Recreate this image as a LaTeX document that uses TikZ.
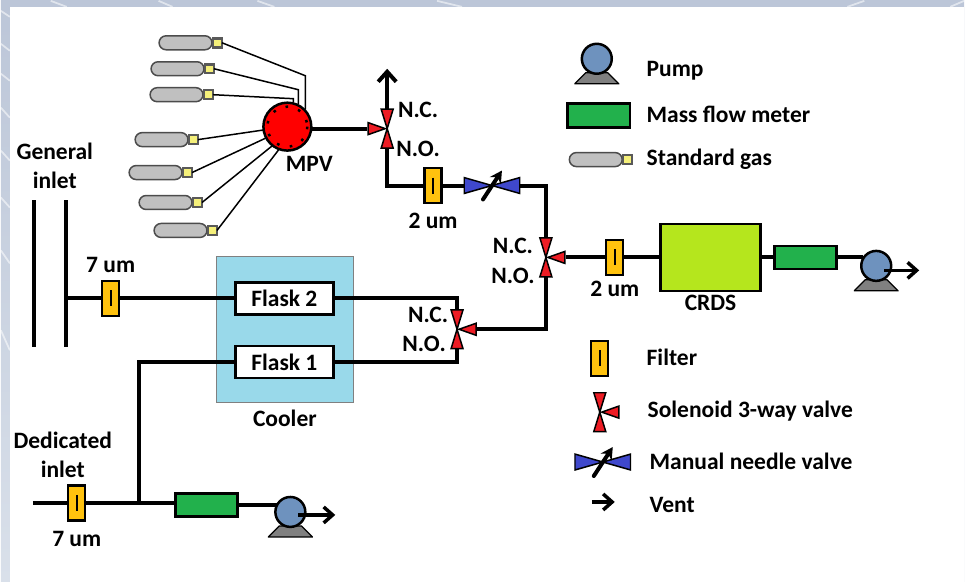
\documentclass[tikz,border=0pt]{standalone}
\usepackage{fontspec}
\setmainfont{Carlito}
\usetikzlibrary{positioning, arrows.meta, shapes.misc}
\definecolor{bgblue}{HTML}{BCC6D8}
\definecolor{bgpale}{HTML}{D9E0EA}
\definecolor{coolerblue}{HTML}{99D9EA}
\definecolor{crdsgreen}{HTML}{B5E61D}
\definecolor{mfmgreen}{HTML}{22B14C}
\definecolor{filteryellow}{HTML}{FFC20E}
\definecolor{capyellow}{HTML}{F5F07A}
\definecolor{valvered}{HTML}{ED1C24}
\definecolor{needleblue}{HTML}{3F48CC}
\definecolor{pumpblue}{HTML}{6E92BE}
\definecolor{cylgray}{HTML}{C0C0C0}

\begin{document}
\begin{tikzpicture}[
    x=0.02cm, y=-0.02cm, on grid,
    every node/.style={font=\fontsize{13.4}{15}\selectfont\bfseries, inner sep=0pt, outer sep=0pt},
    pipe/.style={line width=0.08cm},
    lead/.style={line width=0.03cm},
    streak/.style={white, opacity=0.55, line width=0.035cm},
    ventline/.style={line width=0.07cm, -{Straight Barb[length=0.18cm, width=0.32cm, line width=0.07cm]}},
    filterbox/.style={draw, line width=0.045cm, fill=filteryellow, minimum width=0.34cm, minimum height=0.7cm,
        path picture={\draw[line width=0.04cm] (0,-8) -- (0,8);}},
    mfmbox/.style={draw, line width=0.05cm, fill=mfmgreen, minimum width=1.24cm, minimum height=0.46cm},
    flaskbox/.style={draw, line width=0.05cm, fill=white, minimum width=1.96cm, minimum height=0.64cm},
    valve3way/.style={minimum size=0.8cm,
        path picture={\draw[line width=0.03cm, fill=valvered] (0,0) -- (-6,-19.5) -- (6,-19.5) -- cycle;
            \draw[line width=0.03cm, fill=valvered] (0,0) -- (-6,19.5) -- (6,19.5) -- cycle;
            \draw[line width=0.03cm, fill=valvered] (#1*2,0) -- (#1*19,-6) -- (#1*19,6) -- cycle;}},
    needlevalve/.style={minimum width=1.14cm, minimum height=0.66cm,
        path picture={\draw[line width=0.03cm, fill=needleblue] (0,0) -- (-28,-8) -- (-28,8) -- cycle;
            \draw[line width=0.03cm, fill=needleblue] (0,0) -- (28,-8) -- (28,8) -- cycle;
            \draw[line width=0.08cm, line cap=round, -{Stealth[length=0.24cm, width=0.26cm]}] (-9,14) -- (10,-15);}},
    pumpcircle/.style={circle, draw, line width=0.05cm, fill=pumpblue, minimum size=0.6cm},
    pumpbase/.style={minimum width=0.9cm, minimum height=0.24cm,
        path picture={\draw[line width=0.025cm, fill=gray] (-22,5.5) -- (22,5.5) -- (11,-5.5) -- (-11,-5.5) -- cycle;}},
    cylbody/.style={rounded rectangle, draw=black!70, line width=0.03cm, fill=cylgray, minimum width=1.06cm, minimum height=0.28cm},
    cylcap/.style={draw=black!65, line width=0.05cm, fill=capyellow, minimum width=0.18cm, minimum height=0.18cm},
    legendtxt/.style={anchor=west},
    ]

   % Page behind the drawing.
   \fill[top color=bgblue, bottom color=bgpale] (0,0) rectangle (965,582);
   \draw[streak] (50,0) -- (66,6) (158,0) -- (172,6) (257,0) -- (274,6) (437,0) -- (462,6) (865,0) -- (848,6) (965,0) -- (951,6);
   \draw[streak] (0,10) -- (9,16) (0,43) -- (9,50) (0,73) -- (9,80) (0,107) -- (9,117) (0,150) -- (9,160) (0,197) -- (9,207) (0,250) -- (9,263) (0,330) -- (9,350);
   \fill[white] (9,6) rectangle (965,582);
   \useasboundingbox (0,0) rectangle (965,582);

   % Standard gases and MPV.
   \node[circle, draw, line width=0.05cm, fill=red, minimum size=0.96cm,
       path picture={\draw[line width=0.05cm, dash pattern=on 1.5pt off 6pt] (0,0) circle (20);}] (mpv) at (287,126) {};
   \node[below right=0.74cm and 0.44cm of mpv] (mpv_txt) {MPV};

   \node[cylbody] (cyl1) at (185,42) {};
   \node[cylcap, right=0.64cm of cyl1] (cap1) {};
   \node[cylbody] (cyl2) at (177,68) {};
   \node[cylcap, right=0.64cm of cyl2] (cap2) {};
   \node[cylbody] (cyl3) at (176,94) {};
   \node[cylcap, right=0.64cm of cyl3] (cap3) {};
   \node[cylbody] (cyl4) at (161,139) {};
   \node[cylcap, right=0.64cm of cyl4] (cap4) {};
   \node[cylbody] (cyl5) at (155,172) {};
   \node[cylcap, right=0.64cm of cyl5] (cap5) {};
   \node[cylbody] (cyl6) at (165,202) {};
   \node[cylcap, right=0.64cm of cyl6] (cap6) {};
   \node[cylbody] (cyl7) at (180,230) {};
   \node[cylcap, right=0.64cm of cyl7] (cap7) {};

   \coordinate (bend1) at (305,75);
   \coordinate (bend2) at (298,89);
   \coordinate (bend3) at (293,98);
   \draw[lead] (cap1.east) -- (bend1) -- (bend1 |- mpv.45);
   \draw[lead] (cap2.east) -- (bend2) -- (bend2 |- mpv.70);
   \draw[lead] (cap3.east) -- (bend3) -- (bend3 |- mpv.north);
   \draw[lead] (cap4.east) -- (mpv.188);
   \draw[lead] (cap5.east) -- (mpv.208);
   \draw[lead] (cap6.east) -- (mpv.232);
   \draw[lead] (cap7.east) -- (mpv.250);

   % Sampling line.
   \node[valve3way=-1] (valve1) at (387,128) {};
   \node[above right=0.38cm and 0.62cm of valve1] (nc1) {N.C.};
   \node[below right=0.4cm and 0.62cm of valve1] (no1) {N.O.};
   \coordinate[above=1.2cm of valve1] (vent1);
   \node[filterbox, below right=1.14cm and 0.92cm of valve1] (filter1) {};
   \node[below=0.7cm of filter1] (filter1_txt) {2 um};
   \node[needlevalve, right=1.18cm of filter1] (needle) {};
   \node[valve3way=1] (valve2) at (546,257) {};
   \node[above left=0.24cm and 0.66cm of valve2] (nc2) {N.C.};
   \node[below left=0.38cm and 0.66cm of valve2] (no2) {N.O.};
   \node[filterbox, right=1.38cm of valve2] (filter2) {};
   \node[below=0.64cm of filter2] (filter2_txt) {2 um};
   \node[draw, line width=0.05cm, fill=crdsgreen, minimum width=2cm, minimum height=1.34cm, right=1.92cm of filter2] (crds) {};
   \node[below=0.92cm of crds] (crds_txt) {CRDS};
   \node[mfmbox, right=1.9cm of crds] (mfm1) {};
   \node[pumpbase, below right=0.56cm and 1.42cm of mfm1] (base1) {};
   \node[pumpcircle, above=0.39cm of base1] (pump1) {};
   \coordinate (vent2a) at (885,270);
   \coordinate (vent2b) at (920,270);

   \draw[pipe] (mpv.east |- valve1) -- (valve1.west);
   \draw[pipe, -{Straight Barb[length=0.2cm, width=0.36cm, line width=0.08cm]}] (valve1.north) -- (vent1);
   \draw[pipe] (valve1.south) |- (filter1.west);
   \draw[pipe] (filter1) -- (needle);
   \draw[pipe] (needle.east) -| (valve2.north);
   \draw[pipe] (valve2.east) -- (filter2);
   \draw[pipe] (filter2) -- (crds);
   \draw[pipe] (crds) -- (mfm1);
   \draw[pipe] (mfm1.east) -- (mfm1.east -| pump1.150);
   \draw[ventline] (vent2a) -- (vent2b);

   % Flasks in the cooler.
   \node[draw=black!50, line width=0.02cm, fill=coolerblue, minimum width=2.74cm, minimum height=2.92cm] (cooler) at (284.5,329) {};
   \node[below=1.78cm of cooler] (cooler_txt) {Cooler};
   \node[flaskbox] (flask2) at (284,298) {Flask 2};
   \node[flaskbox, below=1.28cm of flask2] (flask1) {Flask 1};
   \node[valve3way=1] (valve3) at (457,329) {};
   \node[above left=0.28cm and 0.58cm of valve3] (nc3) {N.C.};
   \node[below left=0.3cm and 0.66cm of valve3] (no3) {N.O.};

   \draw[pipe] (valve2.south) |- (valve3.east);
   \draw[pipe] (valve3.north) |- (flask2.east);
   \draw[pipe] (valve3.south) |- (flask1.east);

   % General inlet.
   \node[fill=black, minimum width=0.08cm, minimum height=2.96cm] (bar1) at (33,273) {};
   \node[fill=black, minimum width=0.08cm, minimum height=2.96cm, right=0.64cm of bar1] (bar2) {};
   \node[align=center] (general_txt) at (54,165) {General\\[1.5pt]inlet};
   \node[filterbox] (filter3) at (110,298) {};
   \node[above=0.66cm of filter3] (filter3_txt) {7 um};
   \draw[pipe] (bar2 |- filter3) -- (filter3);
   \draw[pipe] (filter3) -- (flask2);

   % Dedicated inlet.
   \node[align=center] (dedicated_txt) at (62,455) {Dedicated\\[1.5pt]inlet};
   \node[filterbox] (filter4) at (76,503) {};
   \coordinate (dedicated) at (32,503);
   \node[below=0.72cm of filter4] (filter4_txt) {7 um};
   \coordinate (tee) at (138,503);
   \node[mfmbox] (mfm2) at (206,505) {};
   \node[pumpbase, below right=0.53cm and 1.68cm of mfm2] (base2) {};
   \node[pumpcircle, above=0.39cm of base2] (pump2) {};
   \coordinate (vent3a) at (298,515);
   \coordinate (vent3b) at (335,515);

   \draw[pipe] (dedicated) -- (filter4);
   \draw[pipe] (filter4) -- (tee);
   \draw[pipe] (tee) -- (tee -| mfm2.west);
   \draw[pipe] (flask1.west) -| (tee);
   \draw[pipe] (mfm2.east) -- (mfm2.east -| pump2.150);
   \draw[ventline] (vent3a) -- (vent3b);

   % Legend.
   \node[pumpbase] (base3) at (597,77.5) {};
   \node[pumpcircle, above=0.39cm of base3] (pump3) {};
   \node[legendtxt] (pump_txt) at (647,70) {Pump};
   \node[mfmbox, minimum width=1.26cm, minimum height=0.48cm] (mfm3) at (599,115) {};
   \node[legendtxt] (mfm_txt) at (647,114) {Mass flow meter};
   \node[cylbody] (cyl8) at (596,159) {};
   \node[cylcap, right=0.64cm of cyl8] (cap8) {};
   \node[legendtxt] (gas_txt) at (647,159) {Standard gas};
   \node[filterbox] (filter5) at (600,358) {};
   \node[legendtxt] (filter_txt) at (647,357) {Filter};
   \node[valve3way=1] (valve4) at (600,412) {};
   \node[legendtxt] (valve_txt) at (648,411) {Solenoid 3-way valve};
   \node[needlevalve] (needle2) at (603,462) {};
   \node[legendtxt] (needle_txt) at (650,461) {Manual needle valve};
   \coordinate (vent4a) at (592,502);
   \coordinate (vent4b) at (615,502);
   \draw[ventline] (vent4a) -- (vent4b);
   \node[legendtxt] (vent_txt) at (650,505) {Vent};

\end{tikzpicture}
\end{document}
